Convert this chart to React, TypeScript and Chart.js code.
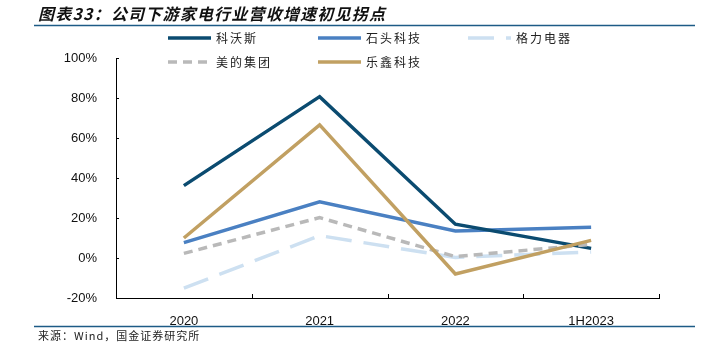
import React, { useEffect, useRef } from "react";
import { Chart, registerables } from "chart.js";

Chart.register(...registerables);

const titleText = "图表33：公司下游家电行业营收增速初见拐点";
const sourceText = "来源：Wind，国金证券研究所";
const categories = ["2020", "2021", "2022", "1H2023"];
const seriesNames = ["科沃斯", "石头科技", "格力电器", "美的集团", "乐鑫科技"];
const ecovacs = [36.2, 80.7, 16.9, 4.8];
const roborock = [7.7, 28.1, 13.5, 15.4];
const gree = [-15.1, 11.2, 0.3, 3.0];
const midea = [2.3, 20.2, 0.7, 6.8];
const espressif = [10.0, 66.6, -8.0, 8.8];
const yTicks = [-20, 0, 20, 40, 60, 80, 100];

const colors = ["#0b4b70", "#4a80c2", "#cde0f1", "#b9b9b9", "#c1a062"];
const dashes: number[][] = [[], [], [26, 12], [9, 6], []];

const FONT = '"Liberation Sans", Arial, sans-serif';
const CJK = '"Noto Sans CJK SC", sans-serif';

const decorPlugin = {
  id: "decor",
  afterDraw(chart: any) {
    const ctx = chart.ctx;
    const x = chart.scales.x;
    const y = chart.scales.y;
    const area = chart.chartArea;
    ctx.save();
    // title
    ctx.fillStyle = "#111";
    ctx.font = `italic bold 16px ${CJK}`;
    ctx.textBaseline = "middle";
    ctx.textAlign = "left";
    (ctx as any).letterSpacing = "1.2px";
    ctx.fillText(titleText, 38, 14);
    // rules
    ctx.strokeStyle = "#1d5b86";
    ctx.lineWidth = 1.5;
    ctx.beginPath();
    ctx.moveTo(34, 25.5);
    ctx.lineTo(695, 25.5);
    ctx.moveTo(34, 326.5);
    ctx.lineTo(695, 326.5);
    ctx.stroke();
    // source
    ctx.fillStyle = "#222";
    ctx.font = `11px ${CJK}`;
    (ctx as any).letterSpacing = "1px";
    ctx.fillText(sourceText, 38, 336);
    // inward tick marks
    ctx.strokeStyle = "#000";
    ctx.lineWidth = 1;
    ctx.beginPath();
    for (let i = 0; i < categories.length; i++) {
      const px = Math.round(x.getPixelForValue(i + 0.5)) + 0.5;
      ctx.moveTo(px, area.bottom);
      ctx.lineTo(px, area.bottom - 4);
    }
    for (const v of yTicks) {
      const py = Math.round(y.getPixelForValue(v)) + 0.5;
      ctx.moveTo(area.left, py);
      ctx.lineTo(area.left + 3, py);
    }
    ctx.stroke();
    // legend
    const cols = [168, 318, 468];
    const rows = [38, 62];
    ctx.font = `12px ${CJK}`;
    (ctx as any).letterSpacing = "2px";
    chart.data.datasets.forEach((ds: any, i: number) => {
      const lx = cols[i % 3];
      const ly = rows[Math.floor(i / 3)];
      ctx.strokeStyle = ds.borderColor;
      ctx.lineWidth = 3.5;
      ctx.lineCap = "butt";
      ctx.setLineDash(ds.borderDash || []);
      ctx.beginPath();
      ctx.moveTo(lx, ly);
      ctx.lineTo(lx + 43, ly);
      ctx.stroke();
      ctx.setLineDash([]);
      ctx.fillStyle = "#222";
      ctx.fillText(ds.label, lx + 48, ly);
    });
    ctx.restore();
  },
};

export default function App() {
  const ref = useRef<HTMLCanvasElement>(null);
  useEffect(() => {
    if (!ref.current) return;
    const series = [ecovacs, roborock, gree, midea, espressif];
    const chart = new Chart(ref.current, {
      type: "line",
      data: {
        labels: categories,
        datasets: series.map((d, i) => ({
          label: seriesNames[i],
          data: d,
          borderColor: colors[i],
          backgroundColor: colors[i],
          borderWidth: 3.5,
          borderDash: dashes[i],
          borderCapStyle: "butt",
          borderJoinStyle: "miter",
          pointRadius: 0,
          tension: 0,
          fill: false,
          order: [3, 4, 5, 2, 1][i],
        })),
      },
      options: {
        responsive: false,
        animation: false,
        devicePixelRatio: 1,
        layout: { padding: { left: 0, right: 56, top: 58, bottom: 0 } },
        plugins: { legend: { display: false }, tooltip: { enabled: false }, title: { display: false } },
        scales: {
          x: {
            type: "category",
            offset: true,
            grid: { display: false },
            border: { display: true, color: "#000", width: 1 },
            ticks: { color: "#111", font: { family: FONT, size: 13 }, padding: 8, maxRotation: 0 },
            afterFit: (s: any) => { s.height = 52; },
          },
          y: {
            min: -20,
            max: 100,
            grid: { display: false },
            border: { display: true, color: "#000", width: 1 },
            ticks: {
              stepSize: 20,
              color: "#111",
              font: { family: FONT, size: 13 },
              padding: 11,
              callback: (v: any) => `${v}%`,
            },
            afterFit: (s: any) => { s.width = 116; },
          },
        },
      },
      plugins: [decorPlugin],
    } as any);
    return () => chart.destroy();
  }, []);
  return (
    <div style={{ position: "fixed", left: 0, top: 0, width: 715, height: 350, background: "#fff" }}>
      <canvas ref={ref} width={715} height={350} style={{ width: 715, height: 350 }} />
    </div>
  );
}
